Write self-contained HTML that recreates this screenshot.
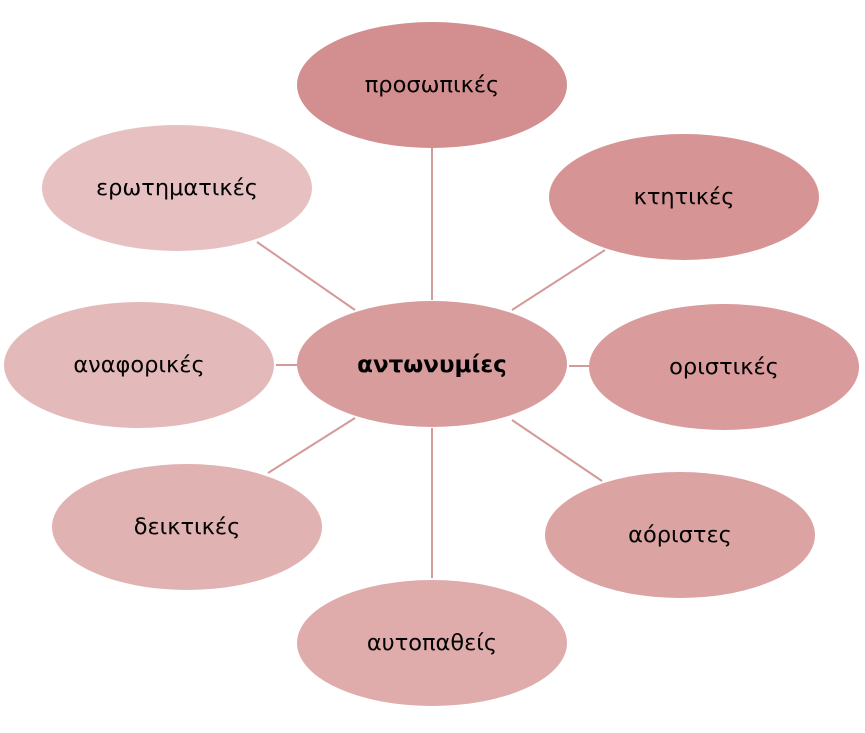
<!DOCTYPE html>
<html><head><meta charset="utf-8"><style>html,body{margin:0;padding:0;background:#fff}</style></head>
<body>
<svg width="865" height="728" viewBox="0 0 865 728" xmlns="http://www.w3.org/2000/svg" font-family="'DejaVu Sans','Liberation Sans',sans-serif" font-size="22.5" text-anchor="middle">
<g stroke="#d49a9a" stroke-width="2">
<line x1="432" y1="148" x2="432" y2="300"/>
<line x1="605" y1="250" x2="512" y2="310"/>
<line x1="589" y1="366" x2="569" y2="366"/>
<line x1="602" y1="481" x2="512" y2="420"/>
<line x1="432" y1="428" x2="432" y2="578"/>
<line x1="268" y1="473" x2="355" y2="418"/>
<line x1="276" y1="365" x2="297" y2="365"/>
<line x1="257" y1="242" x2="355" y2="310"/>
</g>
<ellipse cx="432" cy="85" rx="135" ry="63" fill="#d38f8f"/>
<ellipse cx="684" cy="197" rx="135" ry="63" fill="#d69494"/>
<ellipse cx="724" cy="367" rx="135" ry="63" fill="#d99b9b"/>
<ellipse cx="680" cy="535" rx="135" ry="63" fill="#dca3a3"/>
<ellipse cx="432" cy="643" rx="135" ry="63" fill="#dfabab"/>
<ellipse cx="187" cy="527" rx="135" ry="63" fill="#e1b2b2"/>
<ellipse cx="139" cy="365" rx="135" ry="63" fill="#e4b9b9"/>
<ellipse cx="177" cy="188" rx="135" ry="63" fill="#e7c1c1"/>
<ellipse cx="432" cy="364" rx="135" ry="63" fill="#d99c9c"/>
<g fill="#000">
<text x="432" y="92">προσωπικές</text>
<text x="684" y="204">κτητικές</text>
<text x="724" y="374">οριστικές</text>
<text x="680" y="542">αόριστες</text>
<text x="432" y="650">αυτοπαθείς</text>
<text x="187" y="534">δεικτικές</text>
<text x="139" y="372">αναφορικές</text>
<text x="177" y="195">ερωτηματικές</text>
<text x="432" y="372" font-weight="bold" font-size="23">αντωνυμίες</text>
</g>
</svg>
</body></html>
